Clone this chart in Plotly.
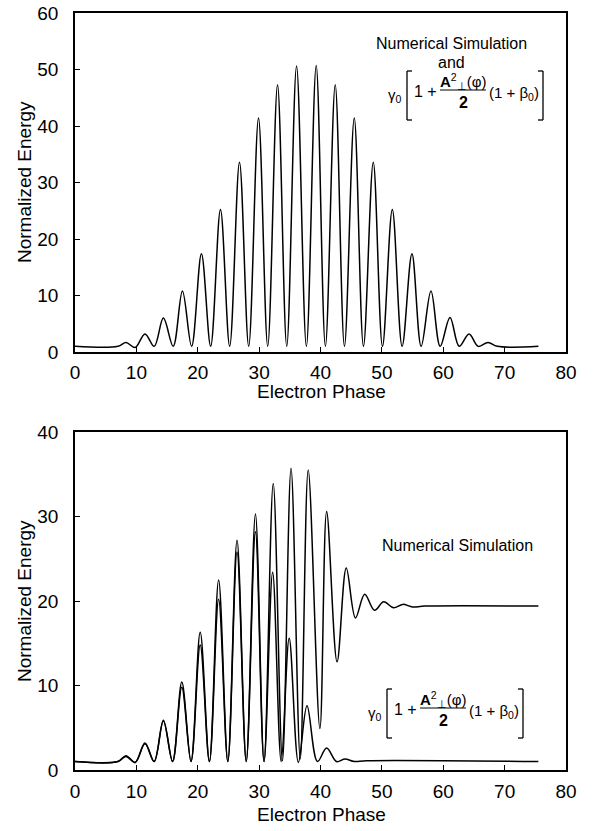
import plotly.graph_objects as go

# ---------------- data ----------------
# Top panel: numerical simulation and analytic expression (coincide)
top_x = [0, 7.0, 8.3, 9.8, 11.4, 12.9, 14.4, 16.0, 17.5, 19.0, 20.6, 22.1, 23.7, 25.2,
         26.8, 28.3, 29.9, 31.4, 33.0, 34.5, 36.1, 37.7, 39.3, 40.8, 42.4, 43.9, 45.5,
         47.0, 48.6, 50.1, 51.7, 53.3, 54.9, 56.4, 58.0, 59.5, 61.1, 62.6, 64.2, 65.7,
         67.3, 68.8, 75.5]
top_y = [1.0, 1.0, 1.7, 0.8, 3.2, 1.0, 6.0, 1.0, 10.8, 1.0, 17.4, 1.0, 25.2, 1.0,
         33.6, 1.0, 41.4, 1.0, 47.3, 1.0, 50.6, 1.0, 50.7, 1.0, 47.3, 1.0, 41.4,
         1.0, 33.6, 1.0, 25.2, 1.0, 17.4, 1.0, 10.8, 1.0, 6.1, 1.0, 3.2, 1.0,
         1.7, 1.0, 1.0]

# Bottom panel: numerical simulation
num_x = [0, 7.0, 8.3, 9.8, 11.4, 12.9, 14.4, 15.9, 17.4, 18.9, 20.4, 21.9, 23.4, 24.9,
         26.4, 27.9, 29.4, 30.8, 32.3, 33.8, 35.2, 36.7, 38.0, 39.9, 41.0, 42.7, 44.2,
         45.7, 47.2, 48.8, 50.3, 51.9, 53.4, 55.0, 57.0, 75.5]
num_y = [1.0, 1.0, 1.7, 0.9, 3.2, 1.0, 5.9, 1.0, 10.4, 1.0, 16.3, 1.0, 22.5, 1.0,
         27.2, 1.0, 30.3, 1.0, 33.9, 1.1, 35.7, 1.3, 35.5, 4.9, 30.6, 12.8, 23.9,
         18.0, 20.8, 18.9, 19.9, 19.2, 19.6, 19.3, 19.4, 19.4]

# Bottom panel: analytic expression
ana_x = [0, 7.0, 8.3, 9.8, 11.4, 12.9, 14.4, 15.9, 17.4, 18.9, 20.4, 21.9, 23.4, 24.9,
         26.4, 27.9, 29.4, 30.8, 32.2, 33.6, 34.9, 36.4, 37.8, 39.5, 41.0, 42.6, 44.0,
         45.5, 47.5, 75.5]
ana_y = [1.0, 1.0, 1.6, 0.9, 3.1, 1.0, 5.8, 1.0, 9.8, 1.0, 14.8, 1.0, 20.2, 1.0,
         25.8, 1.0, 28.2, 1.0, 23.4, 1.0, 15.6, 0.9, 7.6, 1.0, 2.6, 1.0, 1.3,
         1.0, 1.1, 1.0]

x_ticks = [0, 10, 20, 30, 40, 50, 60, 70, 80]
top_y_ticks = [0, 10, 20, 30, 40, 50, 60]
bot_y_ticks = [0, 10, 20, 30, 40]

# ---------------- layout helpers ----------------
W, H = 595, 831
ML, MR, MT, MB = 75, 29, 13, 61
PW, PH = W - ML - MR, H - MT - MB

def px(x):
    return (x - ML) / PW

def py(y):
    return (H - MB - y) / PH

FONT = "Liberation Sans, Arial, Helvetica, sans-serif"
line_style = dict(color="black", width=1.5, shape="spline", smoothing=1.0)

fig = go.Figure()
fig.add_trace(go.Scatter(x=top_x, y=top_y, mode="lines", line=line_style,
                         xaxis="x", yaxis="y", showlegend=False))
fig.add_trace(go.Scatter(x=ana_x, y=ana_y, mode="lines", line=line_style,
                         xaxis="x2", yaxis="y2", showlegend=False))
fig.add_trace(go.Scatter(x=num_x, y=num_y, mode="lines", line=line_style,
                         xaxis="x2", yaxis="y2", showlegend=False))

axis_common = dict(showgrid=False, zeroline=False, showline=True, linecolor="black",
                   linewidth=1.5, mirror=True, ticks="inside", ticklen=5,
                   tickcolor="black", tickwidth=1.2, automargin=False,
                   tickfont=dict(family=FONT, size=19, color="black"))

top_dom = [py(352), 1.0]
bot_dom = [0.0, py(432)]

fig.update_layout(
    width=W, height=H,
    margin=dict(l=ML, r=MR, t=MT, b=MB, autoexpand=False),
    paper_bgcolor="white", plot_bgcolor="white",
    xaxis=dict(axis_common, domain=[0, 1], range=[0, 80], tickvals=x_ticks,
               anchor="y", ticklabelstandoff=2),
    yaxis=dict(axis_common, domain=top_dom, range=[0, 60], tickvals=top_y_ticks,
               anchor="x", ticklabelstandoff=11),
    xaxis2=dict(axis_common, domain=[0, 1], range=[0, 80], tickvals=x_ticks,
                anchor="y2", ticklabelstandoff=3),
    yaxis2=dict(axis_common, domain=bot_dom, range=[0, 40], tickvals=bot_y_ticks,
                anchor="x2", ticklabelstandoff=11),
)

annotations = []
shapes = []

def text(xp, yp, s, size=16, bold=False, angle=0):
    if bold:
        s = "<b>" + s + "</b>"
    annotations.append(dict(x=px(xp), y=py(yp), xref="paper", yref="paper", text=s,
                            showarrow=False, xanchor="center", yanchor="middle",
                            borderpad=0, textangle=angle,
                            font=dict(family=FONT, size=size, color="black")))

def seg(x0, y0, x1, y1, w=1.3):
    shapes.append(dict(type="line", xref="paper", yref="paper",
                       x0=px(x0), y0=py(y0), x1=px(x1), y1=py(y1),
                       line=dict(color="black", width=w)))

def formula(ox, oy):
    # ox, oy: pixel position of the fraction bar's left end
    text(ox - 45, oy + 5, "γ<sub>0</sub>", 15)
    # left bracket
    seg(ox - 33, oy - 19, ox - 33, oy + 30)
    seg(ox - 33, oy - 19, ox - 28, oy - 19)
    seg(ox - 33, oy + 30, ox - 28, oy + 30)
    text(ox - 15, oy + 1, "1 +", 16)
    # numerator
    text(ox + 23, oy - 9, "<b>A</b><sup>2</sup><sub>⊥</sub>(φ)", 15)
    seg(ox, oy, ox + 46, oy, 1.0)
    text(ox + 23, oy + 12, "2", 16, bold=True)
    text(ox + 74, oy + 3, "(1 + β<sub>0</sub>)", 15)
    # right bracket
    seg(ox + 103, oy - 19, ox + 103, oy + 30)
    seg(ox + 103, oy - 19, ox + 98, oy - 19)
    seg(ox + 103, oy + 30, ox + 98, oy + 30)

# axis titles
text(321, 391, "Electron Phase", 19)
text(321, 814, "Electron Phase", 19)
text(24, 182, "Normalized Energy", 19, angle=-90)
text(24, 601, "Normalized Energy", 19, angle=-90)

text(451, 43, "Numerical Simulation", 16)
text(451, 62, "and", 16)
formula(440, 90)

text(457, 545, "Numerical Simulation", 16)
formula(420, 708)

fig.update_layout(annotations=annotations, shapes=shapes)

fig.write_html("out.html")
